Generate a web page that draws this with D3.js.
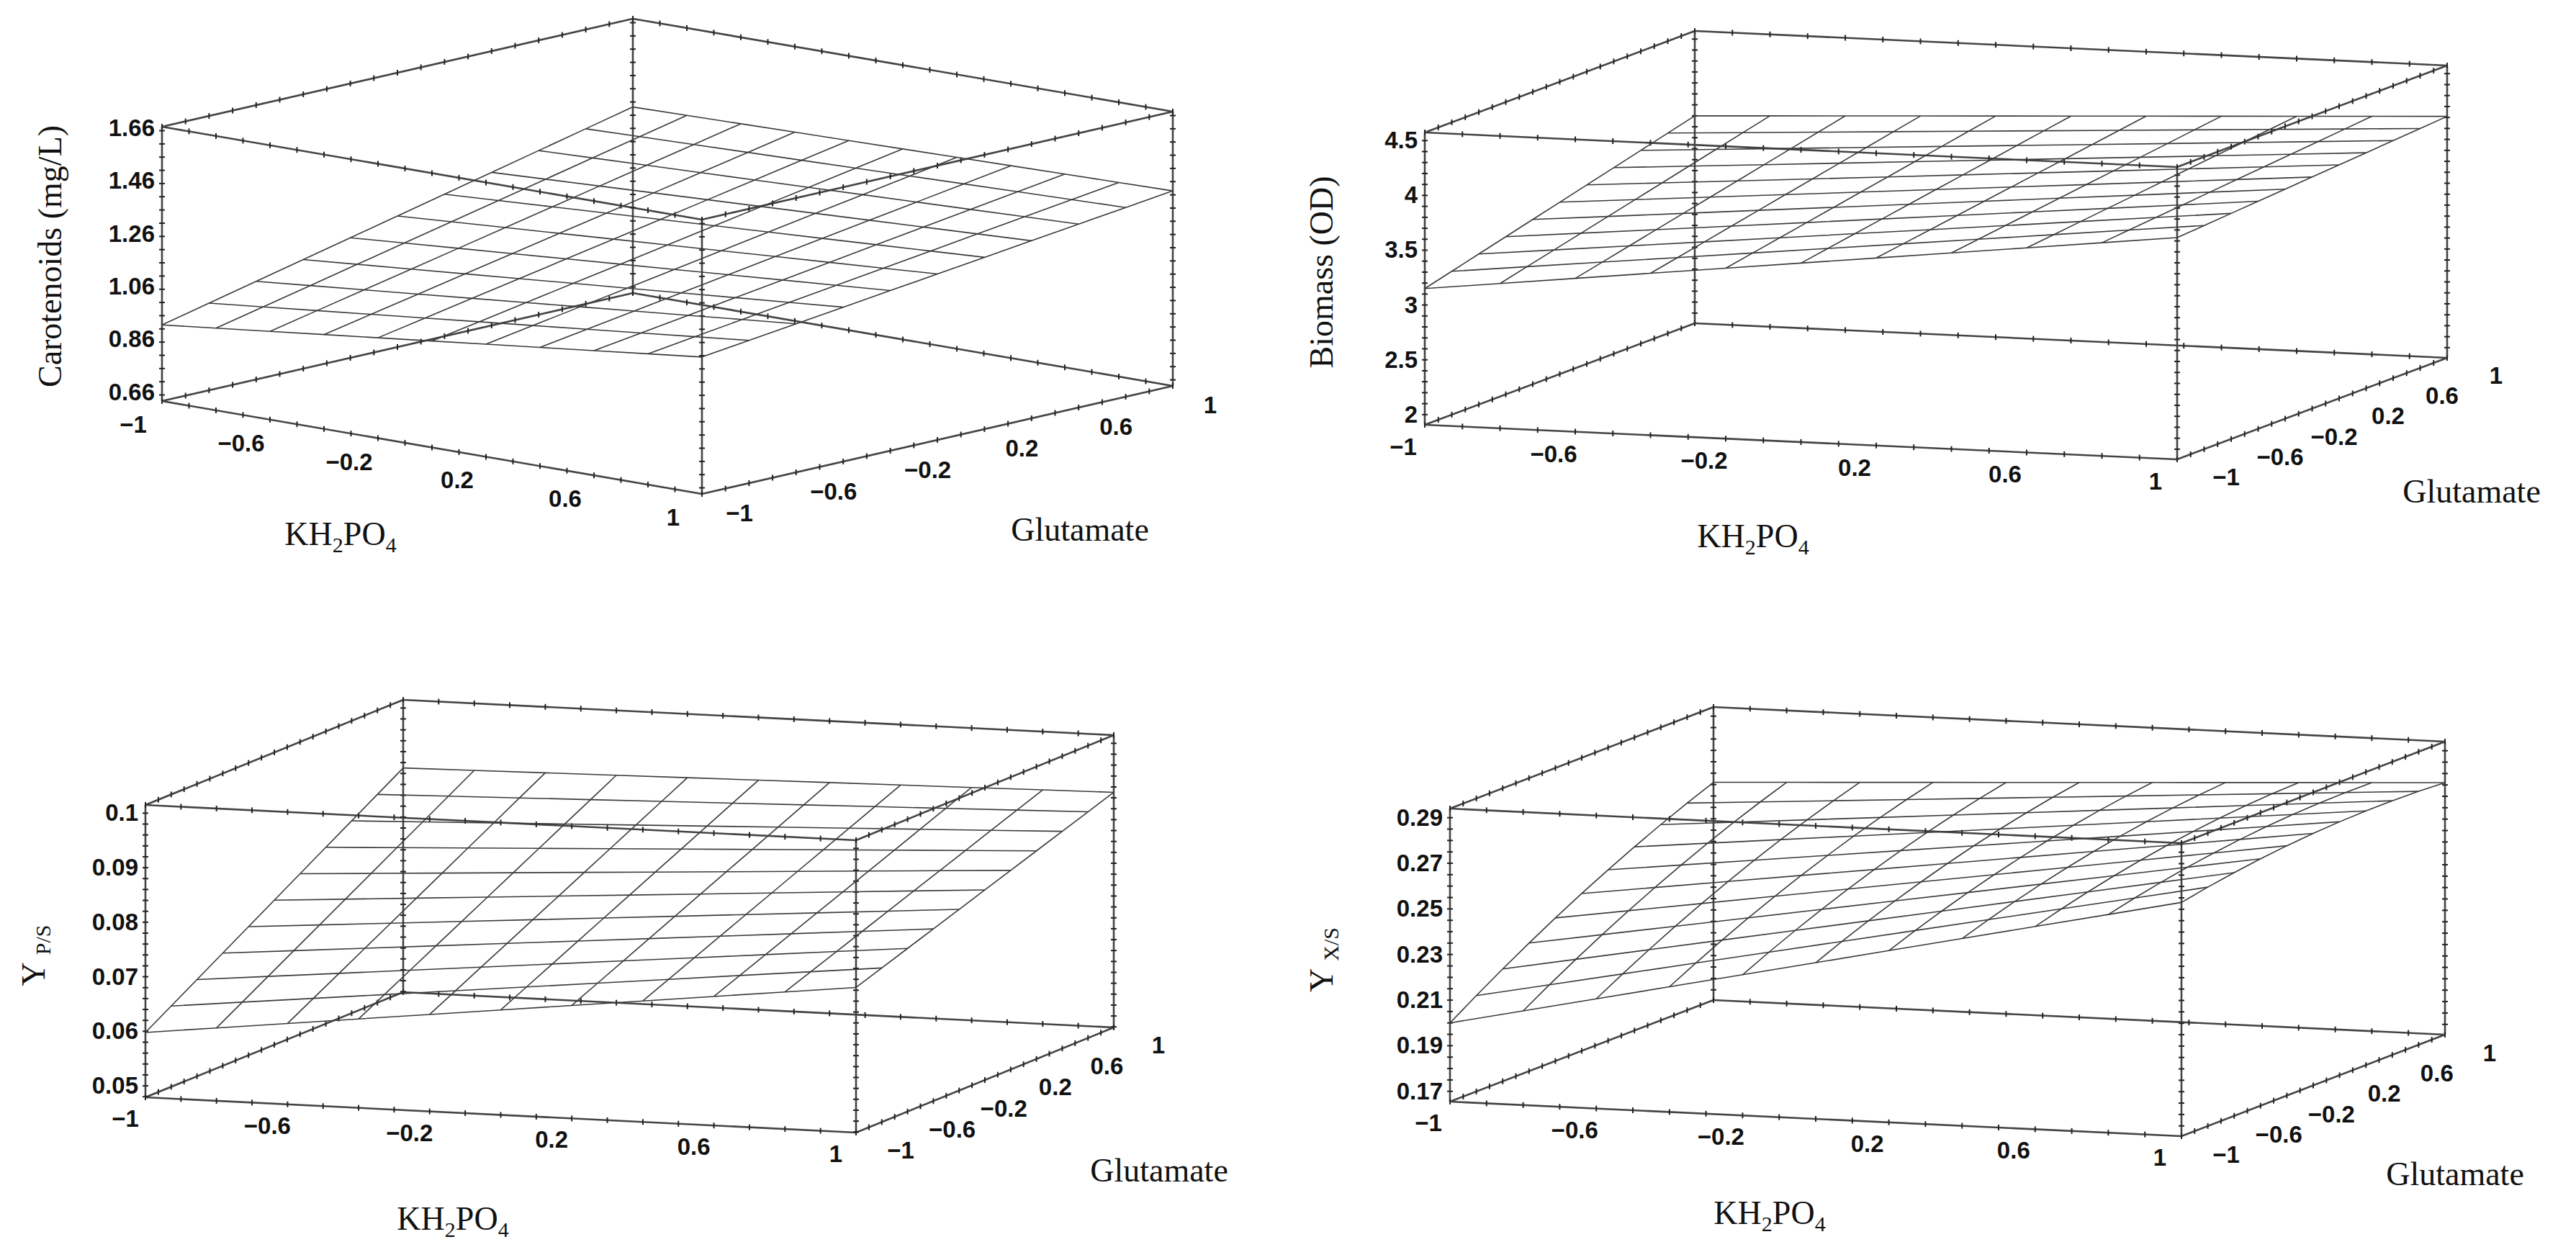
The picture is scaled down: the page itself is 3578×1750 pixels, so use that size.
<!DOCTYPE html>
<html><head><meta charset="utf-8">
<script src="https://cdn.jsdelivr.net/npm/d3@7"></script>
<style>
body{margin:0;background:#fff}
.tick{font-family:"Liberation Sans Narrow","Arial Narrow","Liberation Sans",sans-serif;font-weight:bold;font-size:33px;fill:#111}
.ttl{font-family:"Liberation Serif","Times New Roman",serif;font-size:46px;fill:#111}
</style></head>
<body><svg id="viz" width="3578" height="1750"></svg>
<script>
// coded factor levels
const LEVELS = [-1, -0.8, -0.6, -0.4, -0.2, 0, 0.2, 0.4, 0.6, 0.8, 1];
const AXIS_TICKS = [-1, -0.6, -0.2, 0.2, 0.6, 1];

// response tick labels per panel
const zTicks1 = [0.66, 0.86, 1.06, 1.26, 1.46, 1.66];
const zTicks2 = [2, 2.5, 3, 3.5, 4, 4.5];
const zTicks3 = [0.05, 0.06, 0.07, 0.08, 0.09, 0.1];
const zTicks4 = [0.17, 0.19, 0.21, 0.23, 0.25, 0.27, 0.29];

// fitted model coefficients read from the surfaces: [b0, bKH, bGlu, bKHxGlu, bKH2, bGlu2]
const coef1 = [1.189, 0.066, 0.159, -0.049, 0, 0];
const coef2 = [3.7475, 0.2725, 0.2075, -0.1175, 0, 0];
const coef3 = [0.07858, 0.00418, 0.01143, -0.00318, 0, 0];
const coef4 = [0.25525, 0.02075, 0.01725, -0.01325, 0, -0.004];

const svg = d3.select("#viz");

// box geometry: origin (x=-1,g=-1,zmin), x edge, g edge, height
const panels = [
  {o:[225,557], xv:[750,129], gv:[654,-150], h:381, zd:[0.627,1.665], zt:zTicks1, c:coef1, fmt:d3.format(".2f"),
   title:"Carotenoids (mg/L)", tpos:[69,356], xl:[-40,44], gl:[52,38], kh:[473,757], glu:[1500,751]},
  {o:[1979,590], xv:[1045,48], gv:[375,-141], h:406, zd:[1.907,4.574], zt:zTicks2, c:coef2, fmt:d3.format("~g"),
   title:"Biomass (OD)", tpos:[1835,378], xl:[-30,42], gl:[68,36], kh:[2435,760], glu:[3433,698]},
  {o:[202,1524], xv:[987,49], gv:[358,-146], h:406, zd:[0.0479,0.1015], zt:zTicks3, c:coef3, fmt:d3.format("~g"),
   title:"Y", sub:"P/S", tpos:[46,1327], xl:[-28,41], gl:[62,36], kh:[629,1708], glu:[1610,1641]},
  {o:[2014,1530], xv:[1016,48], gv:[366,-141], h:407, zd:[0.1655,0.294], zt:zTicks4, c:coef4, fmt:d3.format(".2f"),
   title:"Y", sub:"X/S", tpos:[1835,1333], xl:[-30,41], gl:[62,37], kh:[2458,1700], glu:[3410,1646]}
];

const u = d3.scaleLinear().domain([-1, 1]).range([0, 1]);

panels.forEach(p => {
  const zs = d3.scaleLinear().domain(p.zd).range([0, -p.h]);
  const proj = (x, g, z) => [
    p.o[0] + u(x) * p.xv[0] + u(g) * p.gv[0],
    p.o[1] + u(x) * p.xv[1] + u(g) * p.gv[1] + zs(z)
  ];
  const f = (x, g) => { const c = p.c; return c[0] + c[1]*x + c[2]*g + c[3]*x*g + c[4]*x*x + c[5]*g*g; };
  const g0 = svg.append("g");
  const line = d3.line();
  const [z0, z1] = p.zd;

  // box edges
  const edges = [];
  [z0, z1].forEach(z => {
    edges.push([[-1,-1,z],[1,-1,z]], [[1,-1,z],[1,1,z]], [[1,1,z],[-1,1,z]], [[-1,1,z],[-1,-1,z]]);
  });
  [[-1,-1],[1,-1],[1,1],[-1,1]].forEach(([x,g]) => edges.push([[x,g,z0],[x,g,z1]]));
  g0.selectAll("path.edge").data(edges).join("path")
    .attr("d", e => line(e.map(q => proj(...q))))
    .attr("fill", "none").attr("stroke", "#444").attr("stroke-width", 2.6);

  // small ticks along horizontal edges
  const tk = [];
  d3.range(-1, 1.001, 0.1).forEach(t => {
    [z0, z1].forEach(z => {
      tk.push(proj(t, -1, z), proj(t, 1, z), proj(-1, t, z), proj(1, t, z));
    });
  });
  g0.selectAll("path.tk").data(tk).join("path")
    .attr("d", q => `M${q[0]},${q[1]-4}v8`).attr("stroke", "#222").attr("stroke-width", 2);
  const vt = [];
  d3.ticks(z0, z1, 25).forEach(z => {
    [[-1,-1],[1,-1],[1,1],[-1,1]].forEach(([x,g]) => vt.push(proj(x, g, z)));
  });
  g0.selectAll("path.vt").data(vt).join("path")
    .attr("d", q => `M${q[0]-4},${q[1]}h8`).attr("stroke", "#222").attr("stroke-width", 2);

  // surface mesh
  const meshLines = [];
  LEVELS.forEach(a => {
    meshLines.push(LEVELS.map(b => proj(a, b, f(a, b))));
    meshLines.push(LEVELS.map(b => proj(b, a, f(b, a))));
  });
  g0.selectAll("path.mesh").data(meshLines).join("path")
    .attr("d", line).attr("fill", "none").attr("stroke", "#3a3a3a").attr("stroke-width", 1.6);

  // z tick labels
  g0.selectAll("text.zt").data(p.zt).join("text").attr("class", "tick")
    .attr("x", p.o[0] - 10).attr("y", z => proj(-1, -1, z)[1] + 11)
    .attr("text-anchor", "end").text(p.fmt);

  // KH2PO4 tick labels
  g0.selectAll("text.xt").data(AXIS_TICKS).join("text").attr("class", "tick")
    .attr("x", t => proj(t, -1, z0)[0] + p.xl[0]).attr("y", t => proj(t, -1, z0)[1] + p.xl[1])
    .attr("text-anchor", "middle").text(d3.format("~g"));
  // Glutamate tick labels
  g0.selectAll("text.gt").data(AXIS_TICKS).join("text").attr("class", "tick")
    .attr("x", t => proj(1, t, z0)[0] + p.gl[0]).attr("y", t => proj(1, t, z0)[1] + p.gl[1])
    .attr("text-anchor", "middle").text(d3.format("~g"));

  // titles
  const tt = g0.append("text").attr("class", "ttl").attr("text-anchor", "middle")
    .attr("transform", `translate(${p.tpos[0] + 16},${p.tpos[1]}) rotate(-90)`);
  tt.append("tspan").text(p.title);
  if (p.sub) tt.append("tspan").attr("font-size", 30).attr("dx", 10).attr("dy", 8).text(p.sub);

  const kh = g0.append("text").attr("class", "ttl").attr("text-anchor", "middle")
    .attr("x", p.kh[0]).attr("y", p.kh[1]);
  kh.append("tspan").text("KH");
  kh.append("tspan").attr("font-size", 30).attr("dy", 10).text("2");
  kh.append("tspan").attr("dy", -10).text("PO");
  kh.append("tspan").attr("font-size", 30).attr("dy", 10).text("4");
  g0.append("text").attr("class", "ttl").attr("text-anchor", "middle")
    .attr("x", p.glu[0]).attr("y", p.glu[1]).text("Glutamate");
});
</script></body></html>
